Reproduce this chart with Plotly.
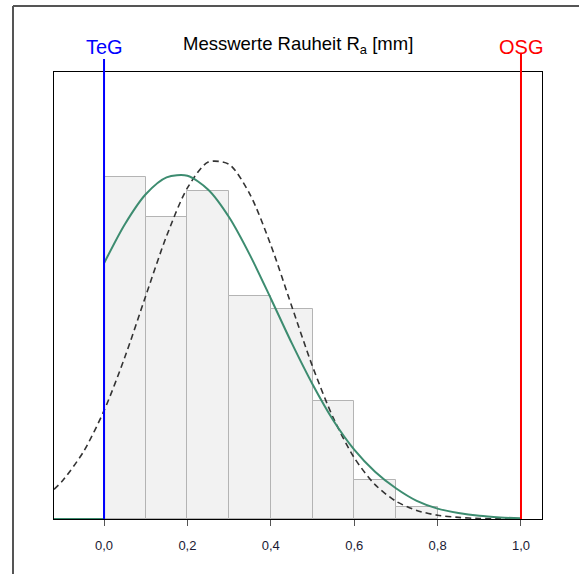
import plotly.graph_objects as go

# Histogram (density) of measured roughness values
bin_left = [0.0, 0.1, 0.2, 0.3, 0.4, 0.5, 0.6, 0.7]
bin_density = [2.171, 1.918, 2.083, 1.415, 1.330, 0.749, 0.247, 0.078]

# Fitted (bounded at 0) distribution - green curve
fit_x = [0.0, 0.05, 0.10, 0.15, 0.20, 0.25, 0.30, 0.35, 0.40, 0.45, 0.50,
         0.55, 0.60, 0.65, 0.70, 0.75, 0.80, 0.85, 0.90, 0.95, 1.0]
fit_y = [1.622, 1.870, 2.060, 2.167, 2.177, 2.089, 1.914, 1.674, 1.399, 1.117, 0.855,
         0.625, 0.440, 0.300, 0.195, 0.115, 0.066, 0.038, 0.020, 0.010, 0.004]
fit_base_x = [-0.12, 0.0, 0.0]
fit_base_y = [0.0, 0.0, 1.622]

# Normal distribution - dashed curve
norm_x = [-0.12, -0.10, -0.05, 0.0, 0.05, 0.10, 0.15, 0.20, 0.25, 0.30, 0.35, 0.40,
          0.45, 0.50, 0.55, 0.60, 0.65, 0.70, 0.75, 0.80, 0.85, 0.90, 0.95, 1.0]
norm_y = [0.188, 0.241, 0.424, 0.687, 1.027, 1.415, 1.795, 2.100, 2.264, 2.249, 2.059, 1.738,
          1.351, 0.968, 0.640, 0.389, 0.218, 0.113, 0.054, 0.024, 0.010, 0.003, 0.001, 0.0]

# Specification limits
teg = 0.0
osg = 1.0

tick_vals = [0.0, 0.2, 0.4, 0.6, 0.8, 1.0]
tick_text = ["0,0", "0,2", "0,4", "0,6", "0,8", "1,0"]

x_range = [-0.12, 1.0504]
y_range = [0, 2.8354]

fig = go.Figure()
fig.add_trace(go.Bar(
    x=bin_left, y=bin_density, width=0.1, offset=0,
    marker=dict(color="#f2f2f2", line=dict(color="#b4b4b4", width=1)),
    hoverinfo="skip", showlegend=False))
fig.add_trace(go.Scatter(
    x=norm_x, y=norm_y, mode="lines",
    line=dict(color="#333333", width=1.6, dash="6px,4px", shape="spline", smoothing=0.8),
    showlegend=False))
fig.add_trace(go.Scatter(
    x=fit_base_x, y=fit_base_y, mode="lines", line=dict(color="#3d8c70", width=2),
    showlegend=False))
fig.add_trace(go.Scatter(
    x=fit_x, y=fit_y, mode="lines",
    line=dict(color="#3d8c70", width=2, shape="spline", smoothing=0.8),
    showlegend=False))

# plot area pixels: left 54, right 542, top 72, bottom 519
W, H = 579, 574
L, R, T, B = 54, 542, 72, 519
pw, ph = R - L, B - T

def px(xp):
    return (xp - L) / pw

def py(yp):
    return (B - yp) / ph

shapes = [
    dict(type="line", xref="x", yref="paper", x0=teg, x1=teg, y0=0, y1=py(59),
         line=dict(color="#0000ff", width=2)),
    dict(type="line", xref="x", yref="paper", x0=osg, x1=osg, y0=0, y1=py(53),
         line=dict(color="#ff0000", width=2)),
    # outer frame (top and left)
    dict(type="line", xref="paper", yref="paper", x0=px(13), x1=px(580), y0=py(6), y1=py(6),
         line=dict(color="#555555", width=2)),
    dict(type="line", xref="paper", yref="paper", x0=px(13), x1=px(13), y0=py(6), y1=py(576),
         line=dict(color="#555555", width=2)),
]

annotations = [
    dict(text="Messwerte Rauheit R<sub>a</sub> [mm]", xref="paper", yref="paper",
         x=px(298), y=py(45), showarrow=False, font=dict(size=18.5, color="#000000"),
         xanchor="center", yanchor="middle"),
    dict(text="TeG", xref="x", yref="paper", x=teg, y=py(47), showarrow=False,
         font=dict(size=20, color="#0000ff"), xanchor="center", yanchor="middle"),
    dict(text="OSG", xref="x", yref="paper", x=osg, y=py(47), showarrow=False,
         font=dict(size=20, color="#ff0000"), xanchor="center", yanchor="middle"),
]

fig.update_layout(
    width=W, height=H,
    margin=dict(l=L, r=W - R, t=T, b=H - B, pad=0),
    paper_bgcolor="white", plot_bgcolor="white",
    font=dict(family="Liberation Sans, Arial, sans-serif"),
    shapes=shapes, annotations=annotations,
    bargap=0, showlegend=False,
    xaxis=dict(range=x_range, tickvals=tick_vals, ticktext=tick_text,
               showgrid=False, zeroline=False, showline=True, linecolor="#000000",
               linewidth=1, mirror=True, ticks="outside", ticklen=6, tickcolor="#555555",
               ticklabelstandoff=8,
               tickfont=dict(size=13, color="#1a1a33")),
    yaxis=dict(range=y_range, showgrid=False, zeroline=False, showline=True,
               linecolor="#000000", linewidth=1, mirror=True, showticklabels=False,
               ticks=""),
)

fig.write_html("out.html")
